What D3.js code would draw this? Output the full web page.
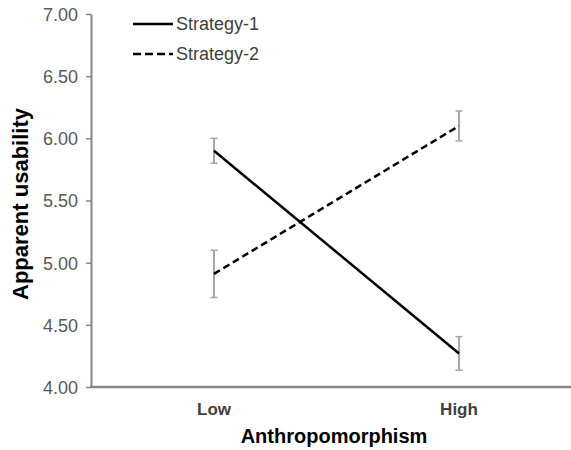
<!DOCTYPE html>
<html>
<head>
<meta charset="utf-8">
<script src="https://cdn.jsdelivr.net/npm/d3@7"></script>
<style>
  body { margin: 0; background: #fff; }
  svg { display: block; font-family: Arial, "Liberation Sans", sans-serif; }
</style>
</head>
<body>
<script>
// data
const categories = ["Low", "High"];
const seriesNames = ["Strategy-1", "Strategy-2"];
const strategy1 = [5.90, 4.27];
const strategy1Err = [0.10, 0.135];
const strategy2 = [4.91, 6.10];
const strategy2Err = [0.19, 0.12];
const yTicks = [4.00, 4.50, 5.00, 5.50, 6.00, 6.50, 7.00];

const WIDTH = 571, HEIGHT = 450;
const margin = {left: 91, right: 0, top: 14, bottom: 63};

const svg = d3.select("body").append("svg")
    .attr("width", WIDTH)
    .attr("height", HEIGHT);

// scales
const xScale = d3.scalePoint()
    .domain(categories)
    .range([214, 459]);
const yScale = d3.scaleLinear()
    .domain([4, 7])
    .range([HEIGHT - margin.bottom, margin.top]);

// y axis
const yAxis = svg.append("g")
    .attr("transform", `translate(${margin.left},0)`)
    .call(d3.axisLeft(yScale).tickValues(yTicks).tickFormat(d3.format(".2f")).tickSize(5).tickSizeOuter(0));
yAxis.attr("font-size", null).attr("font-family", null);
yAxis.select(".domain").attr("stroke", "#868686").attr("stroke-width", 2);
yAxis.selectAll(".tick line").attr("stroke", "#868686").attr("stroke-width", 1.5);
yAxis.selectAll(".tick text")
    .attr("x", -13)
    .attr("dy", "0.36em")
    .attr("fill", "#595959")
    .style("font-size", "18px");

// x axis (no ticks, bold labels)
const xAxis = svg.append("g")
    .attr("transform", `translate(0,${yScale(4)})`);
xAxis.append("line")
    .attr("x1", margin.left - 1).attr("x2", WIDTH)
    .attr("stroke", "#868686").attr("stroke-width", 2.5);
xAxis.selectAll("text")
    .data(categories)
    .enter()
    .append("text")
    .attr("x", d => xScale(d))
    .attr("y", 28)
    .attr("text-anchor", "middle")
    .style("font-size", "17px")
    .attr("font-weight", "bold")
    .attr("fill", "#404040")
    .text(d => d);

// axis titles
svg.append("text")
    .attr("x", 334).attr("y", 443)
    .attr("text-anchor", "middle")
    .style("font-size", "20px")
    .attr("font-weight", "bold")
    .attr("fill", "#000")
    .text("Anthropomorphism");
svg.append("text")
    .attr("transform", `translate(28,204) rotate(-90)`)
    .attr("text-anchor", "middle")
    .style("font-size", "22px")
    .attr("font-weight", "bold")
    .attr("fill", "#000")
    .text("Apparent usability");

// series
const series = [
    {name: seriesNames[0], vals: strategy1, err: strategy1Err, dash: null},
    {name: seriesNames[1], vals: strategy2, err: strategy2Err, dash: "7,4"}
];

const line = d3.line()
    .x((d, i) => xScale(categories[i]))
    .y(d => yScale(d));

series.forEach(s => {
    // error bars
    const eb = svg.append("g");
    s.vals.forEach((v, i) => {
        const x = xScale(categories[i]);
        eb.append("line")
            .attr("x1", x).attr("x2", x)
            .attr("y1", yScale(v + s.err[i])).attr("y2", yScale(v - s.err[i]))
            .attr("stroke", "#a6a6a6").attr("stroke-width", 2);
        [v + s.err[i], v - s.err[i]].forEach(e => {
            eb.append("line")
                .attr("x1", x - 3.5).attr("x2", x + 3.5)
                .attr("y1", yScale(e)).attr("y2", yScale(e))
                .attr("stroke", "#a6a6a6").attr("stroke-width", 1.5);
        });
    });
    svg.append("path")
        .datum(s.vals)
        .attr("d", line)
        .attr("fill", "none")
        .attr("stroke", "#000")
        .attr("stroke-width", 2.5)
        .attr("stroke-dasharray", s.dash);
});

// legend
const legend = svg.append("g");
series.forEach((s, i) => {
    const y = 24 + i * 30;
    legend.append("line")
        .attr("x1", 133).attr("x2", 173)
        .attr("y1", y).attr("y2", y)
        .attr("stroke", "#000")
        .attr("stroke-width", 2.5)
        .attr("stroke-dasharray", s.dash ? "8,4" : null);
    legend.append("text")
        .attr("x", 176).attr("y", y + 6)
        .style("font-size", "18px")
        .attr("fill", "#404040")
        .text(s.name);
});
</script>
</body>
</html>
